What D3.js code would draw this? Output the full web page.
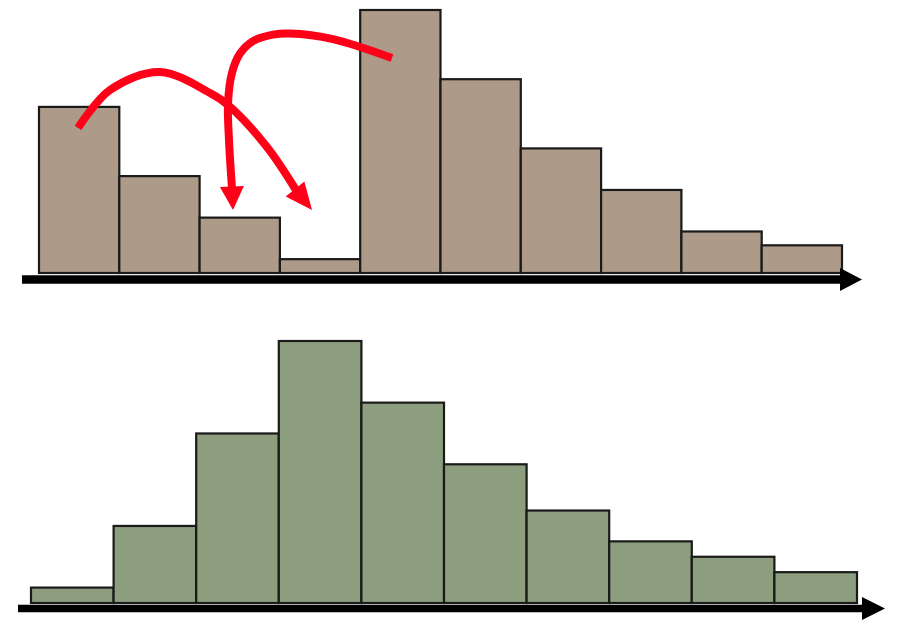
<!DOCTYPE html>
<html>
<head>
<meta charset="utf-8">
<script src="https://cdn.jsdelivr.net/npm/d3@7"></script>
<style>
  html, body { margin: 0; padding: 0; background: #ffffff; }
  svg { display: block; }
</style>
</head>
<body>
<svg id="chart" width="900" height="626"></svg>
<script>
// ---- Data ----
const bins = [0, 1, 2, 3, 4, 5, 6, 7, 8, 9];
const topCounts = [12, 7, 4, 1, 19, 14, 9, 6, 3, 2];
const bottomCounts = [1, 5, 11, 17, 13, 9, 6, 4, 3, 2];

// Annotation arrows on the top histogram, in data units [bin position, count]
const arrow1Points = [[0.486, 10.48], [0.884, 13.22], [1.507, 14.52], [2.130, 13.00], [2.354, 12.14], [2.839, 9.10], [3.200, 5.99]];
const arrow1Tip = [3.400, 4.55];
const arrow2Points = [[4.396, 15.53], [3.661, 16.90], [3.126, 17.30], [2.914, 17.22], [2.665, 16.75], [2.503, 15.85], [2.403, 14.45], [2.354, 12.28], [2.366, 9.61], [2.403, 6.14]];
const arrow2Tip = [2.416, 4.55];

// ---- Drawing ----
const svg = d3.select("#chart");

const panels = [
  { counts: topCounts, fill: "#ad9a89", x0: 39, x1: 842, yBase: 273, yTop: 10, max: 19,
    axisY: 279.5, axisW: 8.5, axisStart: 22, headBase: 840, headTip: 862, headHalf: 11.5 },
  { counts: bottomCounts, fill: "#8c9e7d", x0: 31, x1: 857, yBase: 603, yTop: 341, max: 17,
    axisY: 608.5, axisW: 7.5, axisStart: 18, headBase: 862, headTip: 885, headHalf: 11.5 }
];

const scales = panels.map(p => {
  const x = d3.scaleLinear().domain([0, bins.length]).range([p.x0, p.x1]);
  const y = d3.scaleLinear().domain([0, p.max]).range([p.yBase, p.yTop]);
  return { x, y };
});

panels.forEach((p, i) => {
  const { x, y } = scales[i];
  const g = svg.append("g");

  g.selectAll("rect")
    .data(bins)
    .join("rect")
    .attr("x", d => x(d))
    .attr("y", d => y(p.counts[d]))
    .attr("width", d => x(d + 1) - x(d))
    .attr("height", d => y(0) - y(p.counts[d]))
    .attr("fill", p.fill)
    .attr("stroke", "#1a1a1a")
    .attr("stroke-width", 2.2);

  // axis arrow
  g.append("line")
    .attr("x1", p.axisStart)
    .attr("x2", p.headBase + 2)
    .attr("y1", p.axisY)
    .attr("y2", p.axisY)
    .attr("stroke", "#000")
    .attr("stroke-width", p.axisW);
  g.append("path")
    .attr("d", `M${p.headBase},${p.axisY - p.headHalf}L${p.headTip},${p.axisY}L${p.headBase},${p.axisY + p.headHalf}Z`)
    .attr("fill", "#000");
});

// red arrows on top panel
const { x: xt, y: yt } = scales[0];
const line = d3.line()
  .x(d => xt(d[0]))
  .y(d => yt(d[1]))
  .curve(d3.curveCatmullRom.alpha(0.5));

const red = "#ff0019";
function drawArrow(points, tip) {
  svg.append("path")
    .attr("d", line(points))
    .attr("fill", "none")
    .attr("stroke", red)
    .attr("stroke-width", 8)
    .attr("stroke-linecap", "butt");
  const last = points[points.length - 1];
  const bx = xt(last[0]), by = yt(last[1]);
  const tx = xt(tip[0]), ty = yt(tip[1]);
  const dx = tx - bx, dy = ty - by;
  const len = Math.hypot(dx, dy);
  const ux = dx / len, uy = dy / len;
  const half = 12;
  const b2x = bx - ux * 1.5, b2y = by - uy * 1.5;
  svg.append("path")
    .attr("d", `M${tx},${ty}L${b2x - uy * half},${b2y + ux * half}L${b2x + uy * half},${b2y - ux * half}Z`)
    .attr("fill", red);
}
drawArrow(arrow1Points, arrow1Tip);
drawArrow(arrow2Points, arrow2Tip);
</script>
</body>
</html>
